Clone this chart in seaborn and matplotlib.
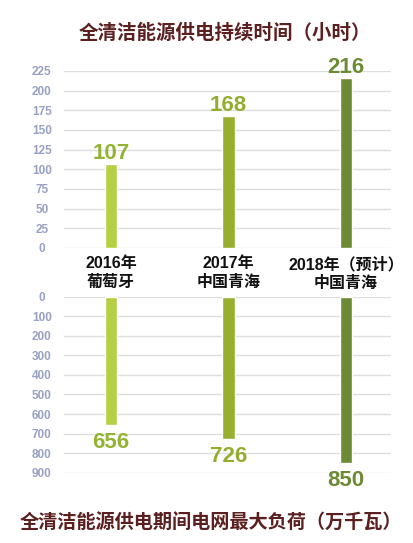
import matplotlib
matplotlib.use("Agg")
import matplotlib.pyplot as plt
import seaborn as sns
import pandas as pd

categories = ["2016年\n葡萄牙", "2017年\n中国青海", "2018年（预计）\n中国青海"]
hours = [107, 168, 216]
load = [656, 726, 850]
bar_colors = ["#b6d043", "#97ae2e", "#6d8b35"]
label_colors = ["#93b332", "#94ad30", "#6d8b35"]
hour_ticks = list(range(0, 226, 25))
load_ticks = list(range(0, 901, 100))
title_top = "全清洁能源供电持续时间（小时）"
title_bottom = "全清洁能源供电期间电网最大负荷（万千瓦）"

sns.set_theme(style="white")
plt.rcParams["font.family"] = ["Noto Sans CJK SC", "DejaVu Sans"]
latin_cjk = ["Liberation Sans", "Noto Sans CJK SC"]

df = pd.DataFrame({"cat": categories, "hours": hours, "load": load})
pal = dict(zip(categories, bar_colors))

fig = plt.figure(figsize=(4.14, 5.43), dpi=100)
fig.patch.set_facecolor("white")
ax1 = fig.add_axes([0.1546, 0.5433, 0.7898, 0.3260])
ax2 = fig.add_axes([0.1546, 0.1295, 0.7898, 0.3241])

tick_color = "#98a1c4"
grid_color = "#dedede"

for ax, col, ticks in [(ax1, "hours", hour_ticks), (ax2, "load", load_ticks)]:
    sns.barplot(data=df, x="cat", y=col, hue="cat", palette=pal, width=0.11,
                dodge=False, legend=False, ax=ax, saturation=1, zorder=3)
    ax.set_yticks(ticks)
    ax.set_yticklabels([str(t) for t in ticks], color=tick_color,
                       fontsize=8.5, fontweight="bold", family="Liberation Sans",
                       ha="center")
    ax.grid(axis="y", color=grid_color, linewidth=1, zorder=0)
    ax.set_axisbelow(True)
    for s in ax.spines.values():
        s.set_visible(False)
    ax.tick_params(axis="y", length=0, pad=16)
    ax.tick_params(axis="x", length=0)
    ax.set_xlim(-0.4, 2.383)
    ax.set_xlabel("")
    ax.set_ylabel("")

ax1.set_ylim(0, 225)
ax2.set_ylim(900, 0)

ax1.set_xticks(range(len(categories)))
ax1.set_xticklabels(categories, fontsize=11.5, fontweight="bold", color="#111111",
                    linespacing=1.3, family=latin_cjk)
ax1.tick_params(axis="x", pad=6)
ax2.set_xticks([])

for i, c in enumerate(ax1.containers):
    ax1.bar_label(c, labels=[str(hours[i])], padding=0, fontsize=16,
                  fontweight="bold", color=label_colors[i], family="Liberation Sans")
for i, c in enumerate(ax2.containers):
    ax2.bar_label(c, labels=[str(load[i])], padding=5, fontsize=16,
                  fontweight="bold", color=label_colors[i], family="Liberation Sans")

fig.text(0.543, 0.938, title_top, ha="center", va="center", fontsize=14,
         fontweight="bold", color="#5b1f1f")
fig.text(0.51, 0.037, title_bottom, ha="center", va="center", fontsize=13.8,
         fontweight="bold", color="#5b1f1f")

fig.savefig("out.png", dpi=100, facecolor="white")
